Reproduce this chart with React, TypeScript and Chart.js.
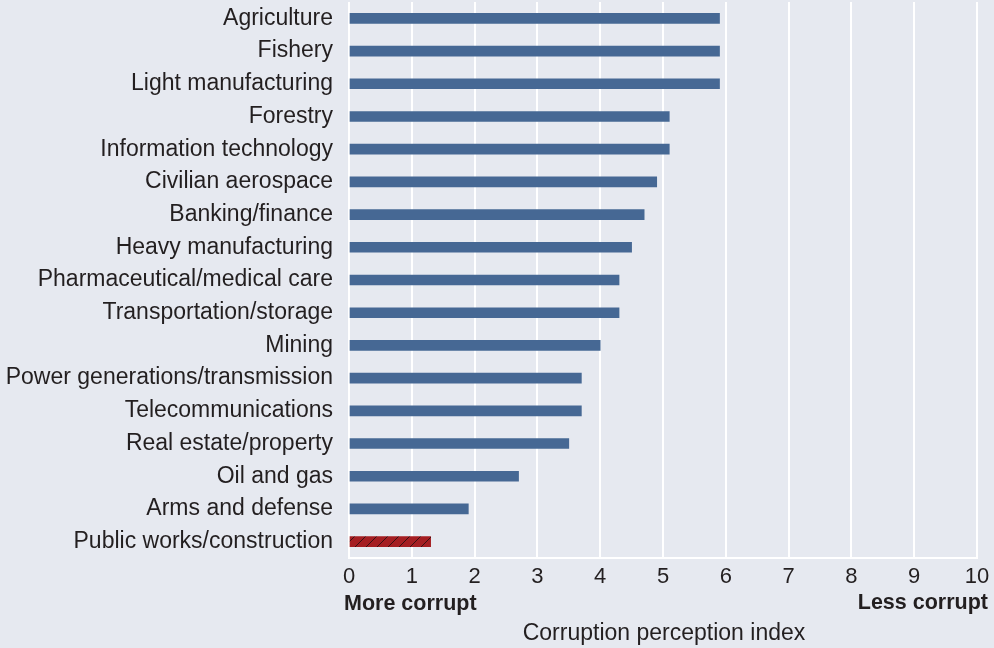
import React, { useEffect, useRef } from "react";
import { Chart, registerables } from "chart.js";

Chart.register(...registerables);

const categories = [
  "Agriculture",
  "Fishery",
  "Light manufacturing",
  "Forestry",
  "Information technology",
  "Civilian aerospace",
  "Banking/finance",
  "Heavy manufacturing",
  "Pharmaceutical/medical care",
  "Transportation/storage",
  "Mining",
  "Power generations/transmission",
  "Telecommunications",
  "Real estate/property",
  "Oil and gas",
  "Arms and defense",
  "Public works/construction",
];
const values = [5.9, 5.9, 5.9, 5.1, 5.1, 4.9, 4.7, 4.5, 4.3, 4.3, 4.0, 3.7, 3.7, 3.5, 2.7, 1.9, 1.3];
const highlighted = ["Public works/construction"];
const xTicks = [0, 1, 2, 3, 4, 5, 6, 7, 8, 9, 10];
const axisTitle = "Corruption perception index";
const leftNote = "More corrupt";
const rightNote = "Less corrupt";

const BG = "#e6e9f0";
const BLUE = "#466894";
const RED = "#a51e22";
const TEXT = "#231f20";
const FONT = "'Liberation Sans', Arial, Helvetica, sans-serif";

function makeHatch(): CanvasPattern | string {
  const c = document.createElement("canvas");
  c.width = 11;
  c.height = 11;
  const ctx = c.getContext("2d");
  if (!ctx) return RED;
  ctx.fillStyle = RED;
  ctx.fillRect(0, 0, 11, 11);
  ctx.strokeStyle = "#3a1012";
  ctx.lineWidth = 1;
  ctx.beginPath();
  ctx.moveTo(-1, 12);
  ctx.lineTo(12, -1);
  ctx.stroke();
  const p = ctx.createPattern(c, "repeat");
  return p || RED;
}

export default function App() {
  const ref = useRef<HTMLCanvasElement | null>(null);

  useEffect(() => {
    if (!ref.current) return;
    document.body.style.margin = "0";
    document.body.style.background = BG;
    const hatch = makeHatch();

    const bgPlugin = {
      id: "bg",
      beforeDraw(chart: any) {
        const { ctx, width, height } = chart;
        ctx.save();
        ctx.fillStyle = BG;
        ctx.fillRect(0, 0, width, height);
        ctx.restore();
      },
      afterDraw(chart: any) {
        const { ctx, chartArea } = chart;
        ctx.save();
        ctx.fillStyle = TEXT;
        ctx.textBaseline = "middle";
        ctx.font = `bold 21.5px ${FONT}`;
        ctx.textAlign = "left";
        ctx.fillText(leftNote, chartArea.left - 5, 604);
        ctx.textAlign = "right";
        ctx.fillText(rightNote, chartArea.right + 11, 603);
        ctx.font = `23px ${FONT}`;
        ctx.textAlign = "center";
        ctx.fillText(axisTitle, 664, 634);
        ctx.restore();
      },
    };

    const chart = new Chart(ref.current, {
      type: "bar",
      data: {
        labels: categories,
        datasets: [
          {
            data: values,
            backgroundColor: categories.map((c) => (highlighted.includes(c) ? hatch : BLUE)),
            barThickness: 10,
            borderWidth: 0,
          },
        ],
      },
      options: {
        indexAxis: "y",
        animation: false,
        responsive: false,
        maintainAspectRatio: false,
        layout: { padding: { top: 2, right: 17, left: 0, bottom: 0 } },
        plugins: {
          legend: { display: false },
          tooltip: { enabled: false },
        },
        scales: {
          x: {
            min: 0,
            max: 10,
            afterBuildTicks(scale: any) {
              scale.ticks = xTicks.map((v) => ({ value: v }));
            },
            afterFit(scale: any) {
              scale.height = 90;
              scale.paddingLeft = 0;
              scale.paddingRight = 0;
            },
            grid: {
              color: "#ffffff",
              lineWidth: 2,
              drawTicks: false,
            },
            border: { display: true, color: "#ffffff", width: 2 },
            ticks: {
              color: TEXT,
              font: { size: 22, family: FONT },
              padding: 6,
              maxRotation: 0,
            },
          },
          y: {
            afterFit(scale: any) {
              scale.width = 349;
              scale.paddingTop = 0;
              scale.paddingBottom = 0;
            },
            grid: { display: false, drawTicks: false },
            border: { display: false },
            ticks: {
              color: TEXT,
              font: { size: 23, family: FONT },
              padding: 16,
              autoSkip: false,
            },
          },
        },
      },
      plugins: [bgPlugin],
    });
    return () => chart.destroy();
  }, []);

  return (
    <div style={{ position: "absolute", left: 0, top: 0, width: 994, height: 648, background: BG }}>
      <canvas ref={ref} width={994} height={648} style={{ width: 994, height: 648, display: "block" }} />
    </div>
  );
}
